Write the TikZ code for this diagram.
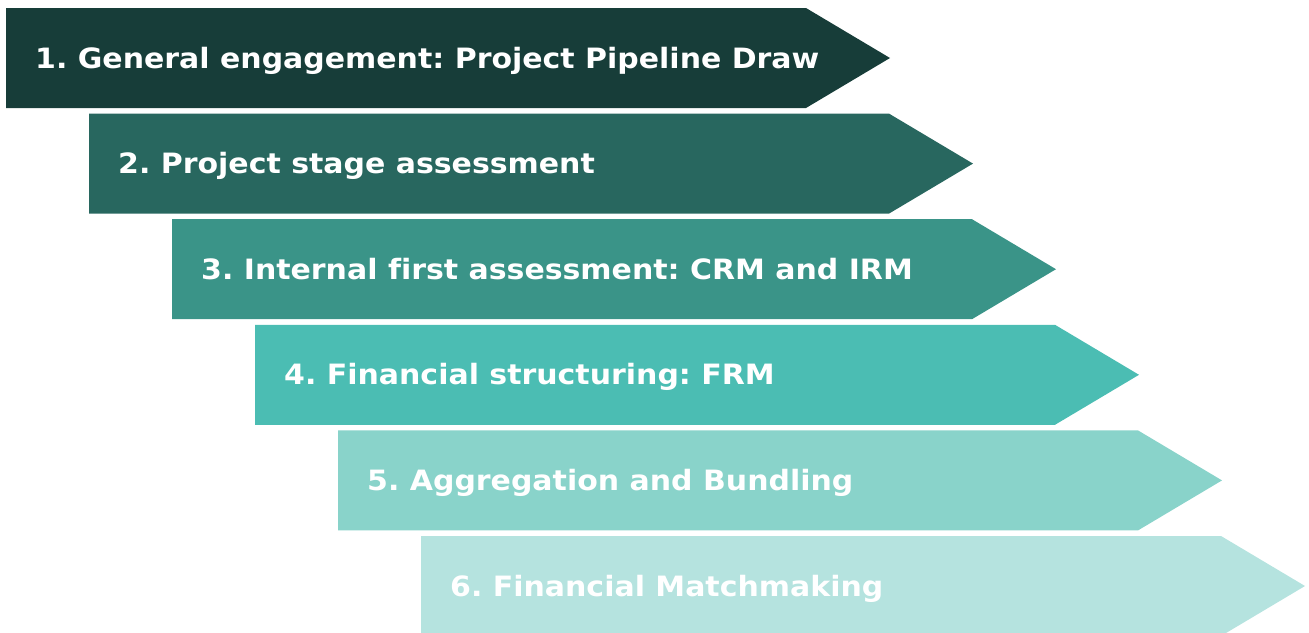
\documentclass[tikz,border=0pt]{standalone}
\usepackage{fontspec}
\setmainfont[FakeStretch=1.07, Ligatures=NoCommon]{DejaVu Sans}
\definecolor{stepA}{HTML}{173D39}
\definecolor{stepB}{HTML}{28675F}
\definecolor{stepC}{HTML}{3A9488}
\definecolor{stepD}{HTML}{4BBDB3}
\definecolor{stepE}{HTML}{89D3CA}
\definecolor{stepF}{HTML}{B5E3DF}
\frenchspacing
\begin{document}
\begin{tikzpicture}[x=1pt, y=-1pt,
  steplabel/.style={text=white, font=\bfseries\fontsize{28}{34}\selectfont, anchor=base west, inner sep=0pt}]
  \useasboundingbox (0,0) rectangle (1309,632);
  \foreach \i/\col/\txt in {0/stepA/{1. General engagement: Project Pipeline Draw},
                            1/stepB/{2. Project stage assessment},
                            2/stepC/{3. Internal first assessment: CRM and IRM},
                            3/stepD/{4. Financial structuring: FRM},
                            4/stepE/{5. Aggregation and Bundling},
                            5/stepF/{6. Financial Matchmaking}} {
    \fill[\col] (6+83*\i, 8+105.6*\i) -- ++(800,0) -- ++(84,50) -- ++(-84,50) -- ++(-800,0) -- cycle;
    \node[steplabel] (step\i) at (35+83*\i, 68+105.6*\i) {\txt};
  }
\end{tikzpicture}
\end{document}
